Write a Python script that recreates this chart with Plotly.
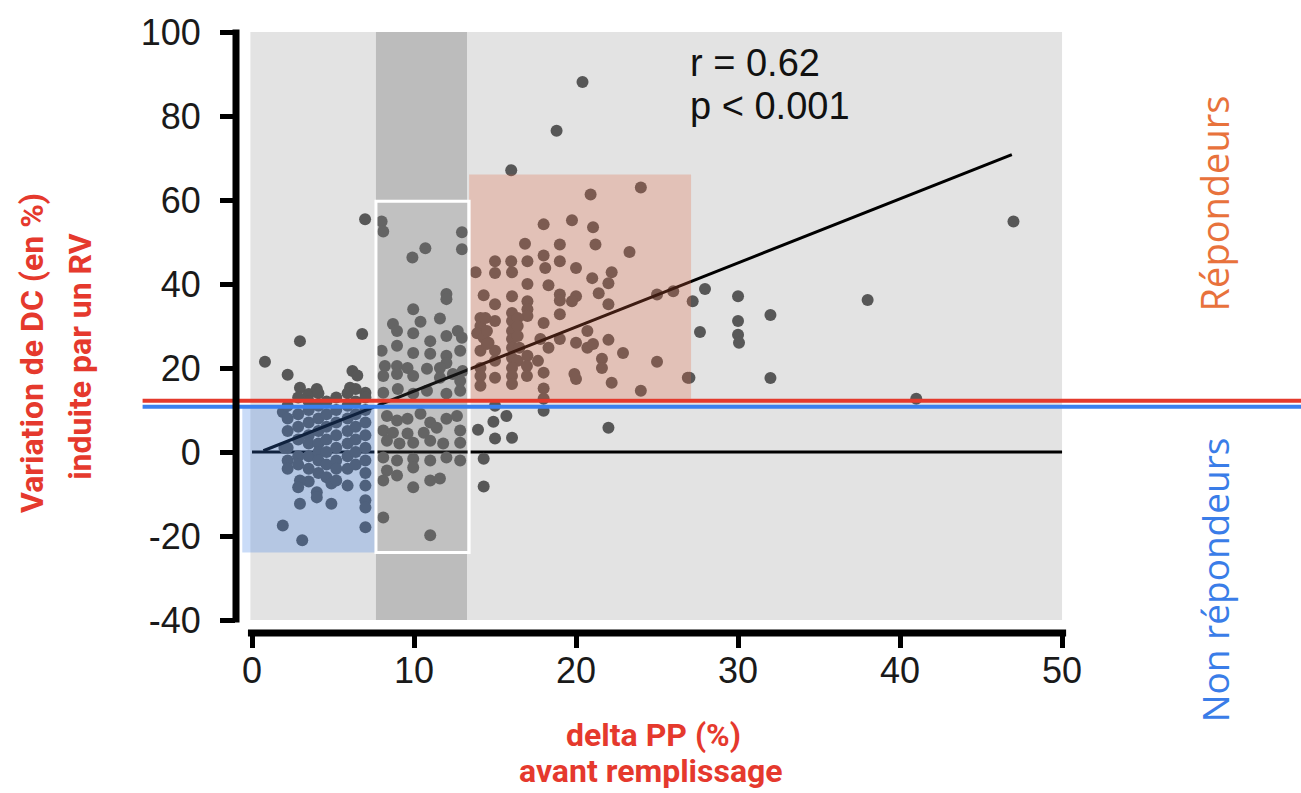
import plotly.graph_objects as go

# ---------------- data ----------------
# grey zone, left / above thresholds
gx_left = [0.8, 2.2, 2.96, 2.96, 3.5, 4.0, 6.05, 6.2, 6.5, 6.8, 6.98, 7.0, 1.9, 2.0]
gy_left = [21.5, 18.4, 26.4, 15.3, 13.8, 15.0, 15.3, 19.3, 18.2, 28.1, 55.4, 14.1, 9.5, 1.0]

# blue zone (non responders, low delta PP)
bx = [2.2, 2.2, 2.2, 2.2, 2.2, 2.2,
      2.85, 2.85, 2.85, 2.85, 2.85, 2.85,
      3.5, 3.5, 3.5, 3.5, 3.5, 3.5, 3.5, 3.5,
      4.1, 4.1, 4.1, 4.1, 4.1, 4.1, 4.1, 4.1,
      4.6, 4.6, 4.6, 4.6, 4.6, 4.6, 4.6,
      5.2, 5.2, 5.2, 5.2, 5.2, 5.2, 5.2,
      5.9, 5.9, 5.9, 5.9, 5.9, 5.9, 5.9, 5.9,
      6.4, 6.4, 6.4, 6.4, 6.4, 6.4, 6.4,
      7.0, 7.0, 7.0, 7.0, 7.0, 7.0, 7.0, 7.0,
      1.9, 3.1, 2.96, 2.85, 4.0, 4.0, 4.9, 5.2, 2.96, 4.9, 7.0, 7.0, 7.0]
by = [11, 8, 5, 1, -2, -4,
      13, 9, 6, 3, -1, -3,
      12, 10, 7, 4, 2, -1, -4, -7,
      14, 11, 8, 5, 2, 0, -2, -5,
      12, 9, 6, 3, 0, -3, -6,
      13, 10, 7, 4, 1, -2, -4,
      14, 11, 8, 5, 2, -1, -4, -8,
      15, 12, 9, 6, 3, 0, -3,
      13, 10, 7, 4, 1, -2, -5, -8,
      -17.5, -21.0, -6.8, -8.4, -9.6, -10.8, -7.5, -6.8, -12.3, -12.3, -11.5, -13.2, -17.9]

# dark band (grey zone, 8-13 %)
dx = [8.0, 8.1, 12.96, 12.96, 10.7, 9.9, 12.0, 12.0, 9.95, 8.7, 8.95, 9.95, 11.0, 12.0, 12.7, 12.96,
      8.95, 8.0, 9.95, 11.0, 12.0, 12.0, 12.85, 10.4, 11.6,
      8.2, 8.95, 9.6, 8.1, 8.95, 9.95, 10.8, 11.6, 11.6, 12.4, 12.85, 13.0,
      8.1, 9.0, 9.95, 10.8, 12.0, 12.85,
      8.33, 8.95, 9.6, 10.4, 11.0, 8.1, 8.7, 9.6, 10.6, 11.4, 12.0, 12.65, 12.85,
      8.33, 9.1, 9.95, 11.0, 11.8, 12.85,
      8.1, 8.95, 9.95, 11.0, 12.0, 12.85, 8.33, 9.95, 8.95, 11.0, 11.6, 8.1,
      9.95, 8.1, 11.0]
dy = [54.9, 52.5, 52.3, 48.3, 48.5, 46.3, 37.6, 36.4, 34.0, 30.5, 28.8, 28.3, 26.4, 27.6, 28.8, 27.2,
      25.3, 24.1, 23.6, 23.4, 22.9, 21.2, 24.1, 31.0, 31.8,
      20.5, 20.5, 20.0, 18.1, 18.6, 18.1, 19.8, 20.0, 17.7, 18.6, 16.9, 19.3,
      14.1, 15.0, 13.9, 14.6, 13.9, 14.6,
      8.6, 7.5, 7.9, 9.1, 7.0, 5.1, 4.6, 4.4, 4.6, 5.8, 7.9, 8.6, 5.1,
      2.7, 2.0, 2.2, 2.7, 2.0, 2.2,
      -1.3, -2.0, -1.6, -2.0, -1.3, -2.0, -4.4, -3.7, -5.6, -6.8, -6.3, -6.8,
      -8.4, -15.6, -19.8]

# orange zone (responders, high delta PP)
ox = [20.4, 18.8, 16.0, 24.0, 20.9, 18.0, 19.75, 21.05, 16.85, 19.0, 21.2, 23.3, 18.0,
      15.0, 16.0, 17.0, 19.0,
      13.8, 15.0, 16.05, 18.1, 20.0, 21.0, 22.2, 22.0, 17.0, 18.3,
      14.3, 16.05, 15.0, 17.0, 17.0, 17.0, 19.0, 19.0, 20.0, 19.75, 21.4, 22.0, 25.0, 26.0,
      19.0, 14.1, 14.1, 15.0, 16.05, 16.05, 16.05, 16.4, 16.4, 18.0, 20.7, 22.0,
      13.9, 14.3, 14.6, 16.05, 16.4, 16.05, 16.5, 17.8, 18.3, 19.0, 20.0, 20.7, 21.05,
      22.9, 25.0, 21.6, 21.6, 15.0, 15.0, 14.1,
      16.05, 16.4, 17.0, 16.97, 17.65, 16.05, 16.05, 16.05, 16.97, 18.0, 19.9, 20.0,
      14.1, 14.1, 14.1, 15.0, 18.0, 22.2, 24.0, 26.9, 14.4, 14.5, 14.5]
oy = [88.1, 76.5, 67.1, 63.0, 61.3, 54.2, 55.2, 53.5, 49.6, 49.4, 49.4, 47.6, 46.8,
      45.4, 45.4, 45.4, 45.4,
      42.8, 42.6, 42.8, 43.8, 43.8, 41.4, 42.8, 40.2, 40.0, 39.7,
      37.3, 37.1, 35.2, 35.9, 34.0, 32.4, 37.5, 36.1, 37.1, 35.9, 37.8, 35.2, 37.5, 38.3,
      32.8, 31.9, 30.0, 31.2, 33.1, 31.2, 28.8, 31.9, 30.0, 30.7, 28.8, 26.7,
      28.3, 27.2, 26.0, 26.9, 27.6, 24.8, 24.8, 26.9, 24.8, 26.9, 26.0, 24.8, 25.7,
      23.6, 21.5, 22.2, 20.0, 24.1, 21.7, 24.1,
      22.4, 21.7, 22.9, 20.5, 21.7, 20.0, 18.1, 16.2, 18.1, 18.9, 18.6, 17.4,
      20.0, 18.1, 15.8, 17.7, 15.1, 16.5, 14.6, 17.7, 31.9, 28.8, 25.7]

# grey zone, right / below
rx = [27.96, 27.2, 30.0, 32.0, 30.0, 27.65, 30.0, 30.06, 38.0, 47.0, 27.0, 32.0, 41.0,
      15.0, 18.0, 15.7, 14.9, 13.95, 15.0, 16.05, 22.0, 14.3, 14.3, 18.0]
ry = [38.8, 35.9, 37.1, 32.6, 31.2, 28.6, 27.9, 26.0, 36.2, 54.9, 17.7, 17.6, 12.7,
      11.0, 9.8, 8.6, 7.2, 5.3, 3.2, 3.4, 5.8, -1.6, -8.2, 12.7]

# regression line and zero reference (end points)
fit_x = [0.7, 46.9]
fit_y = [0.3, 70.8]
ref_x = [0, 50]
ref_y = [0, 0]

x_ticks = [0, 10, 20, 30, 40, 50]
x_labels = ["0", "10", "20", "30", "40", "50"]
y_ticks = [-40, -20, 0, 20, 40, 60, 80, 100]
y_labels = ["-40", "-20", "0", "20", "40", "60", "80", "100"]

# zones
band_x = [7.65, 13.27]
blue_zone = dict(x0=-0.6, x1=7.65, y0=-23.9, y1=10.8)
orange_zone = dict(x0=13.4, x1=27.1, y0=12.7, y1=66.1)
white_box = dict(x0=7.65, x1=13.4, y0=-23.9, y1=59.7)
thr_red = 12.2
thr_blue = 10.8

all_x = gx_left + bx + dx + ox + rx
all_y = gy_left + by + dy + oy + ry

# ---------------- figure ----------------
fig = go.Figure()
fig.add_trace(go.Scatter(x=ref_x, y=ref_y, mode="lines",
                         line=dict(color="black", width=3), hoverinfo="skip"))
fig.add_trace(go.Scatter(x=all_x, y=all_y, mode="markers",
                         marker=dict(size=12, color="#575757", line=dict(width=0))))
fig.add_trace(go.Scatter(x=fit_x, y=fit_y, mode="lines",
                         line=dict(color="black", width=3), hoverinfo="skip"))

shapes = [
    dict(type="rect", xref="x", yref="y", x0=-0.1, x1=50, y0=-40, y1=100,
         fillcolor="#e3e3e3", line=dict(width=0), layer="below"),
    dict(type="rect", xref="x", yref="y", x0=band_x[0], x1=band_x[1], y0=-40, y1=100,
         fillcolor="#bcbcbc", line=dict(width=0), layer="below"),
    dict(type="rect", xref="x", yref="y", **blue_zone,
         fillcolor="rgba(60,125,230,0.27)", line=dict(width=0), layer="above"),
    dict(type="rect", xref="x", yref="y", **orange_zone,
         fillcolor="rgba(225,105,65,0.27)", line=dict(width=0), layer="above"),
    dict(type="rect", xref="x", yref="y", **white_box,
         fillcolor="rgba(255,255,255,0.08)", line=dict(color="white", width=3), layer="above"),
    dict(type="line", xref="paper", yref="y", x0=-0.112, x1=1.3, y0=thr_red, y1=thr_red,
         line=dict(color="#e43a2c", width=4), layer="above"),
    dict(type="line", xref="paper", yref="y", x0=-0.112, x1=1.3, y0=thr_blue, y1=thr_blue,
         line=dict(color="#3a80ee", width=4), layer="above"),
    dict(type="line", xref="paper", yref="y", x0=0, x1=0, y0=-40.6, y1=100.6,
         line=dict(color="black", width=7), layer="above"),
    dict(type="line", xref="x", yref="paper", x0=-0.25, x1=50.25, y0=0, y1=0,
         line=dict(color="black", width=7), layer="above"),
]

annotations = [
    dict(text="r = 0.62", xref="x", yref="y", x=26.9, y=92.6, xanchor="left", yanchor="middle",
         showarrow=False, font=dict(family="Liberation Sans, Arial", size=38, color="#111")),
    dict(text="p < 0.001", xref="x", yref="y", x=26.9, y=82.4, xanchor="left", yanchor="middle",
         showarrow=False, font=dict(family="Liberation Sans, Arial", size=38, color="#111")),
    dict(text="<b>Variation de DC (en %)</b>", xref="paper", yref="paper", x=-0.2446, y=0.462,
         xanchor="center", yanchor="middle", textangle=-90, showarrow=False,
         font=dict(family="Roboto", size=32, color="#e5392d")),
    dict(text="<b>induite par un RV</b>", xref="paper", yref="paper", x=-0.188, y=0.456,
         xanchor="center", yanchor="middle", textangle=-90, showarrow=False,
         font=dict(family="Roboto", size=32, color="#e5392d")),
    dict(text="<b>delta PP (%)</b>", xref="paper", yref="paper", x=0.5, y=-0.168,
         xanchor="center", yanchor="middle", showarrow=False,
         font=dict(family="Roboto", size=32, color="#e5392d")),
    dict(text="<b>avant remplissage</b>", xref="paper", yref="paper", x=0.498, y=-0.227,
         xanchor="center", yanchor="middle", showarrow=False,
         font=dict(family="Roboto", size=32, color="#e5392d")),
    dict(text="Répondeurs", xref="paper", yref="paper", x=1.1727, y=0.709,
         xanchor="center", yanchor="middle", textangle=-90, showarrow=False,
         font=dict(family="Open Sans", size=38, color="#e8723c")),
    dict(text="Non répondeurs", xref="paper", yref="paper", x=1.1727, y=0.087,
         xanchor="center", yanchor="middle", textangle=-90, showarrow=False,
         font=dict(family="Open Sans", size=37, color="#3a7de8")),
]

fig.update_layout(
    width=1301, height=793,
    margin=dict(l=236, r=231, t=25, b=160),
    paper_bgcolor="white", plot_bgcolor="white",
    showlegend=False,
    shapes=shapes, annotations=annotations,
    xaxis=dict(range=[-0.988, 50.49], tickvals=x_ticks, ticktext=x_labels, ticks="outside",
               ticklen=14, tickwidth=5, tickcolor="black", showgrid=False, zeroline=False,
               showline=False, ticklabelstandoff=-8,
               tickfont=dict(family="Liberation Sans, Arial", size=36, color="#1a1a1a")),
    yaxis=dict(range=[-43.09, 101.19], tickvals=y_ticks, ticktext=y_labels, ticks="outside",
               ticklen=15, tickwidth=5, tickcolor="black", showgrid=False, zeroline=False,
               showline=False, ticklabelstandoff=12,
               tickfont=dict(family="Liberation Sans, Arial", size=36, color="#1a1a1a")),
)

fig.write_html("out.html")
